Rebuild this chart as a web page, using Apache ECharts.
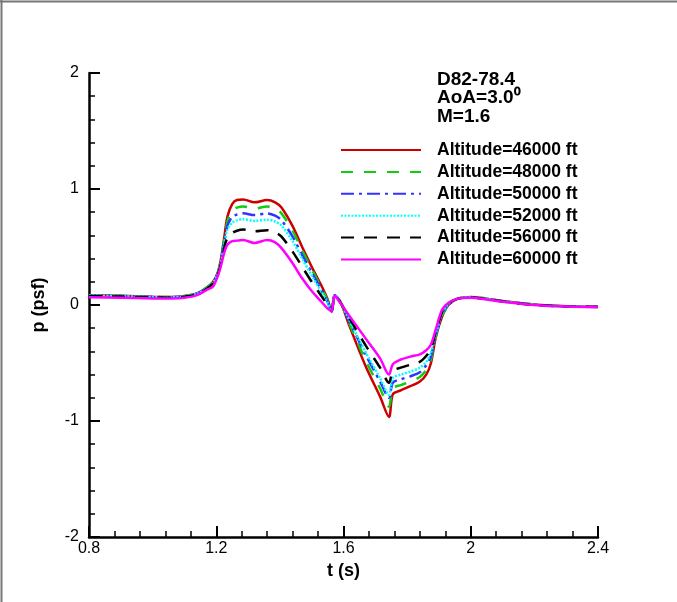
<!DOCTYPE html>
<html>
<head>
<meta charset="utf-8">
<script src="https://cdn.jsdelivr.net/npm/echarts@6/dist/echarts.min.js"></script>
<style>
  html, body { margin: 0; padding: 0; background: #fff; }
  #chart { width: 677px; height: 602px; }
</style>
</head>
<body>
<div id="chart"></div>
<script>
// Time samples (s) shared by all altitude cases
const tVals = [
  0.80, 0.90, 1.00, 1.06, 1.10, 1.14, 1.17,
  1.19, 1.205, 1.215, 1.225, 1.235, 1.25,
  1.265, 1.285, 1.32, 1.36, 1.385,
  1.405, 1.44, 1.47, 1.50, 1.53, 1.55,
  1.563, 1.572,
  1.59, 1.62, 1.67, 1.715, 1.743,
  1.755, 1.78, 1.81, 1.84, 1.86, 1.875, 1.89, 1.91, 1.93, 1.96,
  2.00, 2.05, 2.10, 2.20, 2.30, 2.40
];

// Ground overpressure p (psf) for each flight altitude
const p46000 = [
  0.085, 0.080, 0.072, 0.070, 0.078, 0.100, 0.150,
  0.200, 0.280, 0.400, 0.580, 0.760, 0.870,
  0.905, 0.910, 0.885, 0.905, 0.885,
  0.840, 0.680, 0.500, 0.330, 0.170, 0.050,
  -0.060, 0.085,
  0.030, -0.190, -0.530, -0.790, -0.965,
  -0.770, -0.735, -0.700, -0.660, -0.600, -0.500, -0.280, -0.100, 0.000, 0.055,
  0.070, 0.055, 0.035, 0.005, -0.010, -0.015
];
const p48000 = [
  0.083, 0.078, 0.070, 0.068, 0.076, 0.098, 0.148,
  0.198, 0.278, 0.390, 0.560, 0.720, 0.815,
  0.840, 0.850, 0.830, 0.850, 0.830,
  0.790, 0.640, 0.470, 0.310, 0.150, 0.040,
  -0.055, 0.085,
  0.030, -0.170, -0.480, -0.720, -0.877,
  -0.720, -0.690, -0.660, -0.620, -0.560, -0.470, -0.270, -0.090, 0.000, 0.055,
  0.068, 0.053, 0.033, 0.004, -0.011, -0.016
];
const p50000 = [
  0.082, 0.077, 0.069, 0.067, 0.075, 0.097, 0.146,
  0.195, 0.272, 0.380, 0.540, 0.680, 0.760,
  0.780, 0.790, 0.775, 0.790, 0.770,
  0.730, 0.590, 0.430, 0.280, 0.130, 0.030,
  -0.055, 0.083,
  0.028, -0.150, -0.430, -0.660, -0.800,
  -0.670, -0.640, -0.615, -0.580, -0.520, -0.440, -0.260, -0.080, 0.008, 0.055,
  0.067, 0.052, 0.032, 0.003, -0.012, -0.016
];
const p52000 = [
  0.080, 0.076, 0.068, 0.066, 0.074, 0.096, 0.144,
  0.192, 0.268, 0.370, 0.520, 0.650, 0.710,
  0.730, 0.740, 0.725, 0.735, 0.720,
  0.685, 0.550, 0.400, 0.255, 0.115, 0.020,
  -0.055, 0.082,
  0.026, -0.140, -0.410, -0.630, -0.775,
  -0.630, -0.600, -0.575, -0.540, -0.490, -0.410, -0.250, -0.070, 0.010, 0.055,
  0.066, 0.051, 0.031, 0.002, -0.012, -0.017
];
const p56000 = [
  0.076, 0.073, 0.065, 0.063, 0.071, 0.093, 0.140,
  0.185, 0.262, 0.360, 0.490, 0.580, 0.620,
  0.640, 0.650, 0.635, 0.645, 0.625,
  0.590, 0.460, 0.330, 0.200, 0.080, 0.000,
  -0.052, 0.081,
  0.022, -0.120, -0.350, -0.540, -0.670,
  -0.570, -0.540, -0.515, -0.490, -0.440, -0.380, -0.230, -0.060, 0.015, 0.055,
  0.065, 0.050, 0.030, 0.001, -0.013, -0.017
];
const p60000 = [
  0.066, 0.062, 0.057, 0.055, 0.062, 0.085, 0.130,
  0.160, 0.250, 0.340, 0.450, 0.520, 0.550,
  0.555, 0.560, 0.535, 0.560, 0.540,
  0.490, 0.360, 0.230, 0.120, 0.030, -0.030,
  -0.050, 0.080,
  0.018, -0.100, -0.290, -0.460, -0.600,
  -0.510, -0.470, -0.445, -0.425, -0.390, -0.340, -0.210, -0.040, 0.020, 0.055,
  0.063, 0.048, 0.028, 0.000, -0.014, -0.018
];

const seriesNames = [
  'Altitude=46000 ft', 'Altitude=48000 ft', 'Altitude=50000 ft',
  'Altitude=52000 ft', 'Altitude=56000 ft', 'Altitude=60000 ft'
];
const seriesValues = [p46000, p48000, p50000, p52000, p56000, p60000];

// Line appearance per altitude
const lineStyles = [
  { color: '#cc0000', width: 2.5, type: 'solid' },
  { color: '#11cc11', width: 2.5, type: [12, 11] },
  { color: '#3333ff', width: 2.5, type: [13, 5, 3, 5] },
  { color: '#00ffff', width: 2.5, type: [2, 1.5] },
  { color: '#000000', width: 2.5, type: [13, 10] },
  { color: '#ff00ff', width: 2.5, type: 'solid' }
];

const xTicks = { min: 0.8, max: 2.4, step: 0.4 };
const yTicks = { min: -2, max: 2, step: 1 };

const FONT = '"Liberation Sans", Arial, Helvetica, sans-serif';

const chart = echarts.init(document.getElementById('chart'), null, { renderer: 'canvas' });

const series = seriesNames.map((name, k) => ({
  name: name,
  type: 'line',
  symbol: 'none',
  showSymbol: false,
  smooth: 0.3,
  data: tVals.map((t, i) => [t, seriesValues[k][i]]),
  lineStyle: lineStyles[k],
  itemStyle: { color: lineStyles[k].color }
}));

const axisCommon = {
  axisLine: { show: true, onZero: false, lineStyle: { color: '#000', width: 2.5 } },
  axisTick: { show: true, inside: true, length: 11, lineStyle: { color: '#000', width: 2 } },
  minorTick: { show: true, splitNumber: 5, length: 6, lineStyle: { color: '#000', width: 1.5 } },
  splitLine: { show: false },
  axisLabel: { color: '#000', fontSize: 16, fontFamily: FONT }
};

chart.setOption({
  animation: false,
  backgroundColor: '#ffffff',
  grid: { left: 89, right: 79, top: 73, bottom: 65 },
  xAxis: Object.assign({}, axisCommon, {
    type: 'value',
    min: xTicks.min, max: xTicks.max, interval: xTicks.step,
    name: 't (s)',
    nameLocation: 'middle',
    nameGap: 24,
    nameTextStyle: { color: '#000', fontSize: 18, fontWeight: 'bold', fontFamily: FONT },
    axisLabel: Object.assign({}, axisCommon.axisLabel, { margin: 4 })
  }),
  yAxis: Object.assign({}, axisCommon, {
    type: 'value',
    min: yTicks.min, max: yTicks.max, interval: yTicks.step,
    name: 'p (psf)',
    nameLocation: 'middle',
    nameGap: 41,
    nameTextStyle: { color: '#000', fontSize: 18, fontWeight: 'bold', fontFamily: FONT },
    axisLabel: Object.assign({}, axisCommon.axisLabel, { margin: 10 })
  }),
  legend: {
    orient: 'vertical',
    left: 340,
    top: 141,
    padding: 0,
    itemWidth: 80,
    itemHeight: 14,
    itemGap: 3.9,
    itemStyle: { opacity: 0 },
    data: seriesNames,
    textStyle: { color: '#000', fontSize: 17.5, fontWeight: 'bold', fontFamily: FONT, padding: [0, 0, 0, 11] }
  },
  graphic: [
    { type: 'text', left: 437, top: 70, style: { text: 'D82-78.4', fill: '#000', font: 'bold 19px ' + FONT } },
    { type: 'text', left: 437, top: 88.5, style: { text: 'AoA=3.0\u2070', fill: '#000', font: 'bold 19px ' + FONT } },
    { type: 'text', left: 437, top: 107, style: { text: 'M=1.6', fill: '#000', font: 'bold 19px ' + FONT } },
    { type: 'line', shape: { x1: 0, y1: 1.5, x2: 677, y2: 1.5 }, style: { stroke: '#777', lineWidth: 2 } },
    { type: 'line', shape: { x1: 1.5, y1: 0, x2: 1.5, y2: 602 }, style: { stroke: '#777', lineWidth: 2 } }
  ],
  series: series
});
</script>
</body>
</html>
